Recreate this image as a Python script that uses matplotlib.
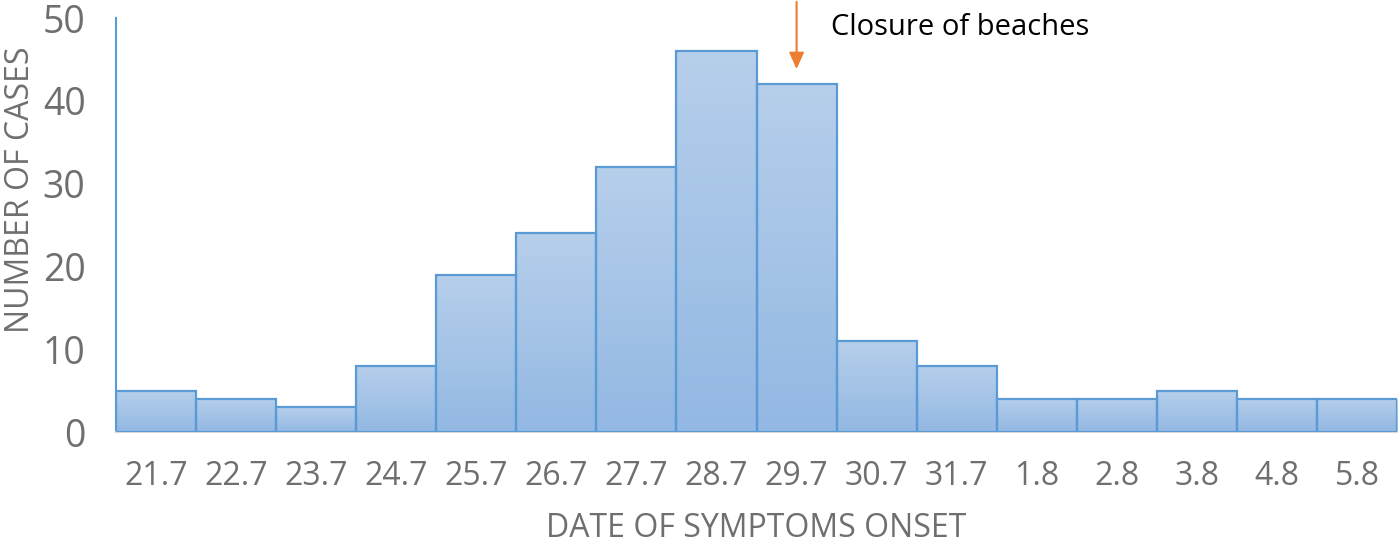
import matplotlib.pyplot as plt
import numpy as np

plt.rcParams['font.family'] = ['Open Sans', 'DejaVu Sans']

dates = ['21.7', '22.7', '23.7', '24.7', '25.7', '26.7', '27.7', '28.7',
         '29.7', '30.7', '31.7', '1.8', '2.8', '3.8', '4.8', '5.8']
cases = [5, 4, 3, 8, 19, 24, 32, 46, 42, 11, 8, 4, 4, 5, 4, 4]
event_label = 'Closure of beaches'
event_date = '29.7'

fig = plt.figure(figsize=(14, 5.47), dpi=100)
ax = fig.add_axes([0.0829, 0.2102, 0.915, 0.7568])

x = np.arange(len(dates))
bars = ax.bar(x, cases, width=1.0, color='none', edgecolor='#5b9bd5',
              linewidth=1.6, zorder=3)

# vertical gradient inside each bar
grad = np.linspace(0, 1, 256).reshape(-1, 1)
cmap = plt.matplotlib.colors.LinearSegmentedColormap.from_list(
    'g', ['#93b8e3', '#b6cfeb'])
for b in bars:
    x0, y0 = b.get_x(), b.get_y()
    im = ax.imshow(grad, extent=[x0, x0 + b.get_width(), y0, y0 + b.get_height()],
                   origin='lower', cmap=cmap, aspect='auto', zorder=2)
    im.set_clip_path(b)

ax.set_xlim(-0.5, len(dates) - 0.5)
ax.set_ylim(0, 50)
ax.set_yticks(range(0, 51, 10))
ax.set_xticks(x)
ax.set_xticklabels(dates)
ax.tick_params(length=0, colors='#6f6f6f')
ax.tick_params(axis='x', pad=20, labelsize=23)
ax.tick_params(axis='y', pad=22, labelsize=27)

for s in ['top', 'right']:
    ax.spines[s].set_visible(False)
ax.spines['left'].set_color('#5b9bd5')
ax.spines['left'].set_linewidth(1.5)
ax.spines['bottom'].set_color('#d9d9d9')
ax.spines['bottom'].set_linewidth(1.5)

ax.set_xlabel('DATE OF SYMPTOMS ONSET', fontsize=23, color='#6f6f6f', labelpad=14)
ax.set_ylabel('NUMBER OF CASES', fontsize=23, color='#6f6f6f')
ax.yaxis.set_label_coords(-0.062, 0.585)

ei = dates.index(event_date)
ax.annotate('', xy=(ei, 43.5), xytext=(ei, 52.3), annotation_clip=False,
            arrowprops=dict(arrowstyle='-|>,head_width=0.45,head_length=1.0',
                            color='#ed7d31', lw=1.5))
ax.text(ei + 0.43, 48.8, event_label, fontsize=21, color='black',
        va='center', ha='left', clip_on=False)

fig.savefig('out.png', dpi=100)
